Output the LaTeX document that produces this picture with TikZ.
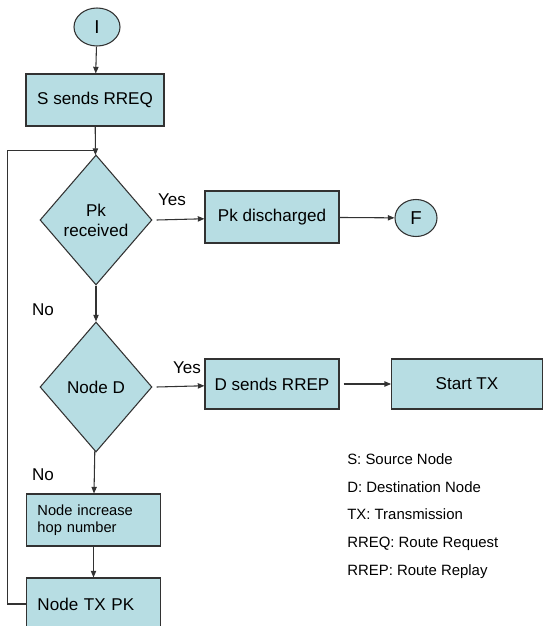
\documentclass[tikz,border=0pt]{standalone}
\usepackage{fontspec}
\setmainfont{Liberation Sans}
\definecolor{flowteal}{RGB}{183, 221, 227}
\definecolor{flowline}{RGB}{50, 50, 50}
\usetikzlibrary{shapes, arrows.meta, positioning}

\tikzset{
  procbox/.style={draw=flowline, fill=flowteal, line width=0.8pt, inner sep=2pt, font=\fontsize{12.8}{15}\selectfont},
  decision/.style={diamond, draw=flowline, fill=flowteal, line width=0.8pt, inner sep=0pt, minimum width=84pt, minimum height=97.5pt, align=center, font=\fontsize{12.8}{15}\selectfont},
  terminal/.style={ellipse, draw=flowline, fill=flowteal, line width=0.8pt, inner sep=0pt, font=\fontsize{14}{16}\selectfont},
  flowarrow/.style={-{Triangle[length=5pt, width=4pt]}, draw=flowline, line width=0.8pt},
  flowlabel/.style={font=\fontsize{12.8}{15}\selectfont}
}

\begin{document}
\begin{tikzpicture}[x=0.75pt, y=-0.75pt]
  \useasboundingbox (0,0) rectangle (543,626);

  % start / end terminals
  \node[terminal, minimum width=34.5pt, minimum height=28.5pt] (start) at (97,27) {I};
  \node[terminal, minimum width=31.5pt, minimum height=27.75pt] (finish) at (416,218) {F};

  % process boxes
  \node[procbox, minimum width=103.5pt, minimum height=39pt] (sreq) at (95,100) {S sends RREQ};
  \node[decision] (pkrecv) at (96,220) {Pk\\received};
  \node[procbox, minimum width=100.5pt, minimum height=39pt] (pkdisc) at (272,217) {Pk discharged};
  \node[decision] (noded) at (96,387) {Node D};
  \node[procbox, minimum width=100.5pt, minimum height=37.5pt] (drrep) at (272,384) {D sends RREP};
  \node[procbox, minimum width=113pt, minimum height=37.5pt] (starttx) at (467,384) {Start TX};
  \node[procbox, text width=84pt, inner xsep=8pt, minimum height=39pt, align=left, font=\fontsize{11}{13}\selectfont] (hopinc) at (93.5,520) {Node increase\\hop number};
  \node[procbox, text width=84pt, inner xsep=8pt, minimum height=39pt, align=left] (nodetx) at (93.5,604) {Node TX PK};

  \coordinate (join) at ([yshift=3pt]pkrecv.north);

  % connectors
  \draw[flowarrow] (start) -- (sreq);
  \draw[flowarrow] (sreq) -- (pkrecv);
  \draw[flowarrow] ([xshift=3pt]pkrecv.east) -- (pkdisc);
  \draw[flowarrow] (pkdisc) -- (finish);
  \draw[flowarrow] (pkrecv) -- (noded);
  \draw[flowarrow] ([xshift=3pt]noded.east) -- (drrep);
  \draw[flowarrow] ([xshift=3pt]drrep.east) -- (starttx);
  \draw[flowarrow] (noded) -- (hopinc);
  \draw[flowarrow] (hopinc) -- (nodetx);
  \draw[draw=flowline, line width=0.8pt] (nodetx.west) -- ++(-19,0) |- (join);

  % yes / no labels
  \node[flowlabel] (yes1) at (172,200) {Yes};
  \node[flowlabel] (yes2) at (187,368) {Yes};
  \node[flowlabel] (no1) at (43,310) {No};
  \node[flowlabel] (no2) at (43,475) {No};

  % legend
  \node[anchor=west, align=left, inner sep=0pt, font=\fontsize{11.2}{20.8}\selectfont] (legend) at (347,516) {
    S: Source Node\\
    D: Destination Node\\
    TX: Transmission\\
    RREQ: Route Request\\
    RREP: Route Replay
  };
\end{tikzpicture}
\end{document}
